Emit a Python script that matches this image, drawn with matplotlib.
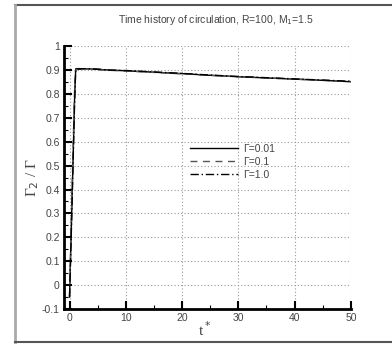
import numpy as np
import matplotlib
matplotlib.use('Agg')
import matplotlib.pyplot as plt
from matplotlib.ticker import MultipleLocator
from matplotlib.lines import Line2D

t = [0, 0.3, 0.6, 0.9, 1.1, 1.5, 3, 5, 7, 10, 15, 20, 25, 30, 35, 40, 45, 50]
g001 = [-0.05, 0.22, 0.50, 0.78, 0.905, 0.906, 0.905, 0.903, 0.900, 0.897, 0.891, 0.885, 0.878, 0.872, 0.867, 0.862, 0.857, 0.851]
g01 = [-0.05, 0.25, 0.55, 0.82, 0.900, 0.903, 0.904, 0.901, 0.899, 0.896, 0.890, 0.884, 0.878, 0.872, 0.867, 0.862, 0.857, 0.852]
g10 = [-0.05, 0.20, 0.48, 0.76, 0.900, 0.904, 0.906, 0.904, 0.900, 0.898, 0.892, 0.886, 0.879, 0.873, 0.868, 0.863, 0.858, 0.853]
labels = ['\u0393=0.01', '\u0393=0.1', '\u0393=1.0']

plt.rcParams['font.family'] = ['Liberation Sans', 'DejaVu Sans']

fig = plt.figure(figsize=(3.92, 3.47), dpi=100)
ax = fig.add_axes([0.163, 0.1095, 0.732, 0.7575])

# outer frame (top, left, bottom)
fig.add_artist(Line2D([14.5/392, 1], [1-5/347, 1-5/347], color='#555555', lw=1.5, transform=fig.transFigure))
fig.add_artist(Line2D([14.5/392, 14.5/392], [1-5/347, 1-342/347], color='#aaaaaa', lw=2, transform=fig.transFigure))
fig.add_artist(Line2D([14.5/392, 1], [1-342/347, 1-342/347], color='#555555', lw=1.5, transform=fig.transFigure))

ax.plot(t, g001, color='black', lw=1.0, ls='-', label=labels[0])
ax.plot(t, g01, color='#555555', lw=1.0, ls=(0, (5, 4)), label=labels[1])
ax.plot(t, g10, color='black', lw=1.0, ls=(0, (6, 2, 1, 2)), label=labels[2])

ax.set_xlim(-1, 50)
ax.set_ylim(-0.1, 1)
ax.xaxis.set_major_locator(MultipleLocator(10))
ax.xaxis.set_minor_locator(MultipleLocator(5))
ax.yaxis.set_minor_locator(MultipleLocator(0.05))
ax.set_yticks(np.round(np.arange(-0.1, 1.01, 0.1), 2))
ax.set_yticklabels(['-0.1', '0', '0.1', '0.2', '0.3', '0.4', '0.5', '0.6', '0.7', '0.8', '0.9', '1'])

for v in range(0, 51, 10):
    ax.axvline(v, color='#999999', lw=0.8, ls=(0, (1, 2)), zorder=0)
for v in np.arange(0, 1.01, 0.1):
    ax.axhline(v, color='#999999', lw=0.8, ls=(0, (1, 2)), zorder=0)

ax.spines['top'].set_visible(False)
ax.spines['right'].set_visible(False)
ax.spines['left'].set_linewidth(2)
ax.spines['bottom'].set_linewidth(2)
ax.tick_params(which='major', direction='in', length=6, width=1.5, labelsize=7.5, labelcolor='#444444', pad=3)
ax.tick_params(which='minor', direction='in', length=3, width=0.8)

ax.set_xlabel('t$^*$', family='Liberation Serif', fontsize=11, color='#444444', va='center')
ax.set_ylabel('\u0393$_2$ / \u0393', family='Liberation Serif', fontsize=11, color='#444444', va='center')
ax.xaxis.set_label_coords(0.49, -0.08)
ax.yaxis.set_label_coords(-0.108, 0.5)
fig.text(216/392, 1-20/347, 'Time history of circulation, R=100, M$_1$=1.5', ha='center', va='center',
         fontsize=7.5, color='#444444')

ax.legend(loc='center left', bbox_to_anchor=(0.42, 0.56), frameon=False, fontsize=7.5,
          handlelength=4.6, handletextpad=0.5, labelspacing=0.3, borderpad=0, labelcolor='#444444')

fig.savefig('out.png', dpi=100)
